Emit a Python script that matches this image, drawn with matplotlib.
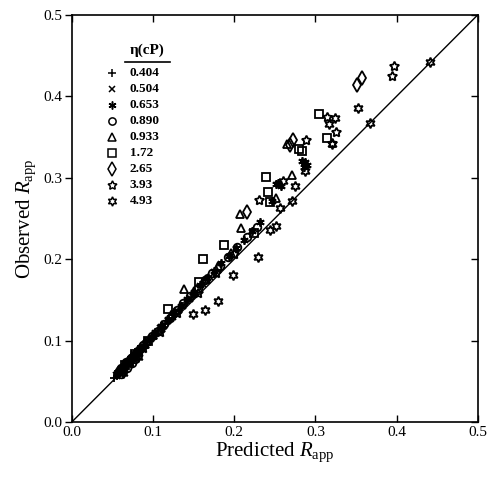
import matplotlib
matplotlib.use("Agg")
import matplotlib.pyplot as plt

plt.rcParams['font.family'] = ['Liberation Serif', 'DejaVu Serif']
plt.rcParams['mathtext.fontset'] = 'custom'
plt.rcParams['mathtext.rm'] = 'Liberation Serif'
plt.rcParams['mathtext.it'] = 'Liberation Serif:italic'
plt.rcParams['mathtext.bf'] = 'Liberation Serif:bold'

# ---- data (predicted, observed) per viscosity ----
labels = ['0.404', '0.504', '0.653', '0.890', '0.933', '1.72', '2.65', '3.93', '4.93']

x_0404 = [0.052, 0.055, 0.057, 0.058, 0.060, 0.061, 0.062, 0.064, 0.065, 0.066, 0.068, 0.069,
          0.070, 0.072, 0.073, 0.075, 0.076, 0.078, 0.080, 0.081, 0.083, 0.086, 0.089, 0.092,
          0.095, 0.098, 0.102, 0.106, 0.110, 0.115, 0.120, 0.126, 0.132, 0.140, 0.148]
y_0404 = [0.054, 0.057, 0.062, 0.060, 0.062, 0.066, 0.064, 0.067, 0.071, 0.068, 0.071, 0.076,
          0.073, 0.075, 0.080, 0.078, 0.084, 0.080, 0.084, 0.089, 0.086, 0.090, 0.093, 0.095,
          0.099, 0.102, 0.107, 0.110, 0.115, 0.120, 0.125, 0.131, 0.137, 0.146, 0.154]

x_0504 = [0.054, 0.056, 0.057, 0.059, 0.061, 0.063, 0.064, 0.065, 0.067, 0.069, 0.071, 0.072,
          0.074, 0.077, 0.079, 0.082, 0.085, 0.088, 0.091, 0.094, 0.097, 0.101, 0.105, 0.109,
          0.113, 0.118, 0.124, 0.130, 0.137, 0.145, 0.153, 0.162, 0.170]
y_0504 = [0.058, 0.056, 0.060, 0.064, 0.065, 0.066, 0.062, 0.070, 0.071, 0.074, 0.076, 0.070,
          0.079, 0.083, 0.084, 0.087, 0.091, 0.093, 0.097, 0.099, 0.103, 0.106, 0.110, 0.115,
          0.118, 0.124, 0.129, 0.136, 0.142, 0.151, 0.160, 0.169, 0.178]

x_0653 = [0.056, 0.059, 0.062, 0.065, 0.068, 0.071, 0.074, 0.077, 0.081, 0.085, 0.090, 0.096,
          0.103, 0.110, 0.118, 0.126, 0.134, 0.142, 0.150, 0.158, 0.166, 0.175, 0.184, 0.193,
          0.202, 0.212, 0.222, 0.232, 0.246, 0.252, 0.254, 0.258, 0.284, 0.286, 0.287, 0.290]
y_0653 = [0.059, 0.063, 0.066, 0.070, 0.074, 0.076, 0.080, 0.083, 0.087, 0.091, 0.097, 0.102,
          0.110, 0.118, 0.126, 0.135, 0.143, 0.151, 0.160, 0.168, 0.177, 0.186, 0.195, 0.204,
          0.214, 0.224, 0.234, 0.245, 0.271, 0.292, 0.294, 0.290, 0.321, 0.313, 0.319, 0.316]

x_0890 = [0.058, 0.060, 0.061, 0.063, 0.064, 0.067, 0.068, 0.070, 0.073, 0.074, 0.076, 0.078,
          0.080, 0.082, 0.084, 0.088, 0.093, 0.099, 0.106, 0.113, 0.121, 0.129, 0.137, 0.146,
          0.155, 0.164, 0.173, 0.182, 0.192, 0.204, 0.216, 0.228]
y_0890 = [0.063, 0.059, 0.066, 0.062, 0.069, 0.073, 0.066, 0.075, 0.079, 0.072, 0.082, 0.077,
          0.085, 0.082, 0.089, 0.094, 0.099, 0.105, 0.112, 0.120, 0.128, 0.137, 0.146, 0.155,
          0.164, 0.174, 0.183, 0.192, 0.203, 0.215, 0.227, 0.239]

x_0933 = [0.060, 0.064, 0.069, 0.075, 0.082, 0.090, 0.100, 0.111, 0.122, 0.138, 0.150, 0.165,
          0.180, 0.196, 0.207, 0.208, 0.251, 0.265, 0.271]
y_0933 = [0.064, 0.069, 0.074, 0.080, 0.088, 0.096, 0.107, 0.119, 0.131, 0.163, 0.161, 0.176,
          0.192, 0.208, 0.256, 0.238, 0.275, 0.342, 0.303]

x_172 = [0.066, 0.078, 0.094, 0.118, 0.156, 0.161, 0.188, 0.224, 0.239, 0.241, 0.244, 0.280,
         0.284, 0.304, 0.314]
y_172 = [0.070, 0.083, 0.100, 0.139, 0.172, 0.200, 0.217, 0.232, 0.301, 0.283, 0.270, 0.335,
         0.333, 0.378, 0.349]

x_265 = [0.216, 0.269, 0.272, 0.351, 0.357]
y_265 = [0.258, 0.340, 0.346, 0.414, 0.423]

x_393 = [0.072, 0.088, 0.108, 0.130, 0.155, 0.178, 0.200, 0.230, 0.289, 0.314, 0.321, 0.325,
         0.394, 0.397]
y_393 = [0.074, 0.091, 0.110, 0.134, 0.158, 0.183, 0.206, 0.273, 0.346, 0.375, 0.343, 0.356,
         0.425, 0.437]

x_493 = [0.063, 0.082, 0.149, 0.164, 0.180, 0.198, 0.229, 0.244, 0.252, 0.256, 0.260, 0.271,
         0.275, 0.287, 0.317, 0.321, 0.324, 0.353, 0.367, 0.441]
y_493 = [0.060, 0.080, 0.133, 0.138, 0.149, 0.181, 0.203, 0.236, 0.241, 0.263, 0.296, 0.271,
         0.290, 0.308, 0.366, 0.342, 0.373, 0.386, 0.367, 0.442]

xs = [x_0404, x_0504, x_0653, x_0890, x_0933, x_172, x_265, x_393, x_493]
ys = [y_0404, y_0504, y_0653, y_0890, y_0933, y_172, y_265, y_393, y_493]

markers = ['+', 'x', (6, 2, 0), 'o', '^', 's', 'd', (5, 1, 0), (6, 1, 0)]
msizes = [6, 4.5, 6, 5.5, 5.5, 5.5, 7, 7, 7]
filled = [False, False, True, False, False, False, False, False, False]

fig = plt.figure(figsize=(4.89, 4.80), dpi=100)
ax = fig.add_axes([0.147, 0.121, 0.830, 0.848])

ax.plot([0, 0.5], [0, 0.5], color='black', lw=1.0, zorder=1)

for x, y, m, ms, f in zip(xs, ys, markers, msizes, filled):
    ax.plot(x, y, linestyle='none', marker=m, markersize=ms,
            markerfacecolor='black' if f else 'none',
            markeredgecolor='black', markeredgewidth=1.3, zorder=3)

ax.set_xlim(0, 0.5)
ax.set_ylim(0, 0.5)
ticks = [0.0, 0.1, 0.2, 0.3, 0.4, 0.5]
ax.set_xticks(ticks)
ax.set_yticks(ticks)
ax.set_xticklabels([f'{t:.1f}' for t in ticks], fontsize=11)
ax.set_yticklabels([f'{t:.1f}' for t in ticks], fontsize=11)
ax.tick_params(axis='x', direction='in', top=True, length=5, width=1, pad=3)
ax.tick_params(axis='y', direction='out', length=5, width=1, pad=2)
ax.tick_params(axis='y', which='both', right=True, labelright=False)
for t in ax.yaxis.get_major_ticks():
    t.tick2line.set_marker(matplotlib.lines.TICKLEFT)
for sp in ax.spines.values():
    sp.set_linewidth(1.2)

ax.set_xlabel(r'Predicted $\mathit{R}_{\mathrm{app}}$', fontsize=15, labelpad=1)
ax.set_ylabel(r'Observed $\mathit{R}_{\mathrm{app}}$', fontsize=15, labelpad=4)

# legend
tx = ax.transAxes
ax.text(0.185, 0.912, 'η(cP)', transform=tx, fontsize=11, fontweight='bold',
        ha='center', va='center')
ax.plot([0.131, 0.241], [0.885, 0.885], transform=tx, color='black', lw=1.2, clip_on=False)
for i, (lab, m, ms, f) in enumerate(zip(labels, markers, msizes, filled)):
    ypix = 73 + 16 * i
    ya = (422 - ypix) / 407
    ax.plot([0.099], [ya], transform=tx, linestyle='none', marker=m, markersize=ms * 0.95,
            markerfacecolor='black' if f else 'none', markeredgecolor='black',
            markeredgewidth=1.1, clip_on=False)
    ax.text(0.143, ya, lab, transform=tx, fontsize=9.5, fontweight='bold',
            ha='left', va='center')

fig.savefig('out.png', dpi=100)
